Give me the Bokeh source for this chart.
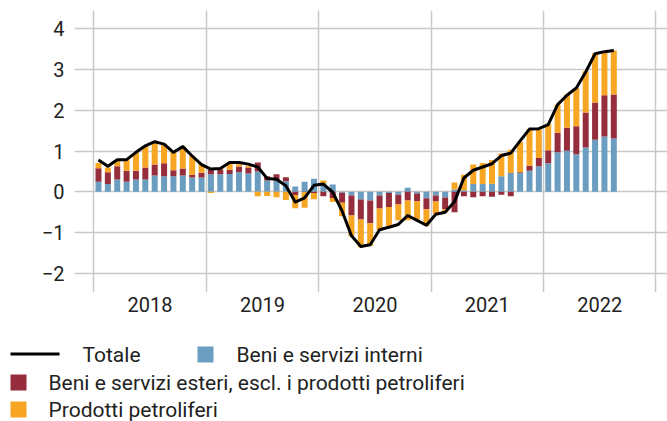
from bokeh.plotting import figure
from bokeh.models import FixedTicker, Range1d
from bokeh.embed import file_html
from bokeh.resources import INLINE
from bokeh.core.properties import value

# ---- data (monthly, Jan 2018 - Aug 2022) ----
year_labels = ["2018", "2019", "2020", "2021", "2022"]

interni = [0.25, 0.19, 0.30, 0.25, 0.30, 0.30, 0.40, 0.38, 0.38, 0.40, 0.35, 0.35,
           0.43, 0.43, 0.44, 0.48, 0.45, 0.50, 0.28, 0.28, 0.26, 0.13, 0.25, 0.32,
           0.21, 0.18, -0.02, -0.09, -0.19, -0.21, -0.09, -0.03, -0.07, 0.10, -0.04, -0.16,
           -0.09, -0.14, 0.06, 0.04, 0.19, 0.19, 0.20, 0.38, 0.46, 0.46, 0.52, 0.63,
           0.70, 0.97, 1.01, 0.92, 1.09, 1.28, 1.36, 1.31]

esteri = [0.33, 0.29, 0.33, 0.27, 0.22, 0.30, 0.27, 0.32, 0.15, 0.17, 0.07, 0.12,
          0.12, 0.12, 0.10, 0.14, 0.15, 0.22, 0.10, 0.15, 0.10, -0.08, -0.01, -0.03,
          -0.11, -0.15, -0.25, -0.49, -0.49, -0.56, -0.32, -0.34, -0.24, -0.21, -0.19, -0.27,
          -0.15, -0.29, -0.50, -0.11, -0.13, -0.11, -0.12, -0.07, -0.11, 0.02, 0.12, 0.20,
          0.32, 0.48, 0.56, 0.69, 0.86, 0.91, 1.01, 1.08]

petroliferi = [0.13, 0.12, 0.14, 0.27, 0.45, 0.52, 0.55, 0.48, 0.45, 0.54, 0.47, 0.21,
               -0.03, 0.03, 0.15, 0.06, 0.04, -0.11, -0.10, -0.13, -0.20, -0.32, -0.38, -0.15,
               0.07, -0.10, -0.33, -0.51, -0.68, -0.55, -0.54, -0.49, -0.39, -0.49, -0.45, -0.41,
               -0.30, -0.07, 0.17, 0.38, 0.48, 0.52, 0.58, 0.56, 0.57, 0.75, 0.90, 0.70,
               0.65, 0.69, 0.81, 0.94, 1.01, 1.21, 1.06, 1.08]

totale = [0.78, 0.63, 0.79, 0.79, 0.97, 1.13, 1.23, 1.17, 0.97, 1.11, 0.88, 0.67,
          0.56, 0.57, 0.72, 0.72, 0.68, 0.61, 0.33, 0.31, 0.15, -0.25, -0.15, 0.16,
          0.19, -0.01, -0.47, -1.08, -1.34, -1.30, -0.93, -0.87, -0.80, -0.58, -0.70, -0.82,
          -0.55, -0.50, -0.24, 0.34, 0.53, 0.61, 0.69, 0.89, 0.95, 1.25, 1.54, 1.55,
          1.65, 2.14, 2.37, 2.55, 2.94, 3.39, 3.44, 3.47]

legend_labels = ["Totale", "Beni e servizi interni",
                 "Beni e servizi esteri, escl. i prodotti petroliferi",
                 "Prodotti petroliferi"]

y_ticks = [-2, -1, 0, 1, 2, 3, 4]

# ---- styling ----
BLUE = "#6A9DC0"
RED = "#962D3C"
ORANGE = "#F6A623"
GRID = "#c8c8c8"
TEXT = "#222222"
FONT = "Roboto"

n = len(totale)
xs = [i + 0.5 for i in range(n)]

# ---- main chart ----
p = figure(frame_width=593, frame_height=282,
           x_range=Range1d(-2.06, 61.23), y_range=Range1d(-2.47, 4.45),
           output_backend="svg", toolbar_location=None,
           min_border_left=74, min_border_right=0, min_border_top=10, min_border_bottom=38)
p.outline_line_color = None
p.background_fill_color = "white"
p.border_fill_color = "white"

pos = [0.0] * n
neg = [0.0] * n
for vals, col in [(interni, BLUE), (esteri, RED), (petroliferi, ORANGE)]:
    bottoms, tops = [], []
    for i, v in enumerate(vals):
        if v >= 0:
            b = pos[i]; t = b + v; pos[i] = t
        else:
            b = neg[i]; t = b + v; neg[i] = t
        bottoms.append(b); tops.append(t)
    p.vbar(x=xs, bottom=bottoms, top=tops, width=0.64, fill_color=col, line_color=None)

p.line(xs, totale, line_color="black", line_width=3, line_join="round")

p.xgrid.ticker = FixedTicker(ticks=[0, 12, 24, 36, 48, 60])
p.ygrid.ticker = FixedTicker(ticks=y_ticks)
for g in (p.xgrid, p.ygrid):
    g.grid_line_color = GRID
    g.grid_line_width = 1.5

p.xaxis.ticker = FixedTicker(ticks=[6 + 12 * k for k in range(len(year_labels))])
p.xaxis.major_label_overrides = {6 + 12 * k: lab for k, lab in enumerate(year_labels)}
p.yaxis.ticker = FixedTicker(ticks=y_ticks)
p.yaxis.major_label_overrides = {t: (str(t).replace("-", "\u2212")) for t in y_ticks}
for ax in (p.xaxis, p.yaxis):
    ax.axis_line_color = None
    ax.major_tick_line_color = None
    ax.minor_tick_line_color = None
    ax.major_tick_out = 0
    ax.major_tick_in = 0
    ax.major_label_text_font = FONT
    ax.major_label_text_font_size = "20px"
    ax.major_label_text_color = TEXT
p.yaxis.major_label_standoff = 10
p.xaxis.major_label_standoff = 4

# ---- legend (separate root figure below, pixel coordinates) ----
lg = figure(width=667, height=91, x_range=Range1d(0, 667), y_range=Range1d(91, 0),
            output_backend="svg", toolbar_location=None,
            x_axis_location=None, y_axis_location=None, min_border=0)
lg.grid.visible = False
lg.outline_line_color = None
lg.background_fill_color = "white"
lg.border_fill_color = "white"
lg.line([10, 59], [23.5, 23.5], line_color="black", line_width=3)
lg.scatter([205, 18, 18], [24, 52, 79], marker="square", size=16,
           fill_color=[BLUE, RED, ORANGE], line_color=None)
lg.text(x=[82, 236, 48, 48], y=[24, 24, 52, 79], text=legend_labels,
        text_baseline="middle", text_align="left",
        text_font=value(FONT), text_font_size="21px", text_color=TEXT)

open("out.html", "w").write(file_html([p, lg], INLINE))
